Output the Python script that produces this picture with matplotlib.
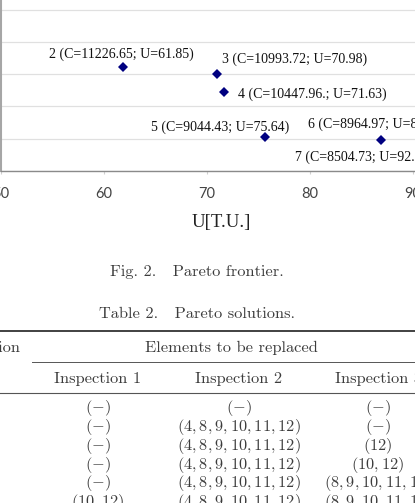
import matplotlib
matplotlib.use("Agg")
import matplotlib.pyplot as plt
from matplotlib.lines import Line2D

plt.rcParams['mathtext.fontset'] = 'cm'

# pareto points (only the visible part of the figure)
point_ids = [2, 3, 4, 5, 6, 7]
cost = [11226.65, 10993.72, 10447.96, 9044.43, 8964.97, 8504.73]
unav = [61.85, 70.98, 71.63, 75.64, 86.86, 92.30]
point_labels = ['2 (C=11226.65; U=61.85)', '3 (C=10993.72; U=70.98)',
                '4 (C=10447.96.; U=71.63)', '5 (C=9044.43; U=75.64)',
                '6 (C=8964.97; U=86.86)', '7 (C=8504.73; U=92.30)']
# label offsets in points, and alignment
label_offsets = [(-1.5, 9.5), (3.5, 11), (10, -1.4), (-32.5, 7.2), (-52, 11.3), (-102, -2.3)]
label_ha = ['center', 'left', 'left', 'center', 'left', 'left']

xticks = [50, 60, 70, 80, 90]
yticks = [8000, 9000, 10000, 11000, 12000, 13000]

# table 2
insp1 = ['(-)', '(-)', '(-)', '(-)', '(-)', '(10, 12)']
insp2 = ['(-)', '(4, 8, 9, 10, 11, 12)', '(4, 8, 9, 10, 11, 12)', '(4, 8, 9, 10, 11, 12)',
         '(4, 8, 9, 10, 11, 12)', '(4, 8, 9, 10, 11, 12)']
insp3 = ['(-)', '(-)', '(12)', '(10, 12)', '(8, 9, 10, 11, 12)', '(8, 9, 10, 11, 12)']
col_headers = ['Inspection 1', 'Inspection 2', 'Inspection 3']

W, H = 415, 503
fx = lambda x: x / W
fy = lambda y: 1 - y / H

fig = plt.figure(figsize=(W / 100, H / 100), dpi=100)
ax = fig.add_axes([fx(1), fy(170.7), fx(414), 170.7 / H])

ax.plot(unav, cost, linestyle='none', marker='D', markersize=5,
        color='#000080', markeredgewidth=0)
for u, c, txt, off, ha in zip(unav, cost, point_labels, label_offsets, label_ha):
    ax.annotate(txt, (u, c), xytext=off, textcoords='offset points', ha=ha, va='center',
                fontsize=10, family='Liberation Serif', color='#111111',
                annotation_clip=False)

ax.set_xlim(50, 50 + 414 / 10.3)
ax.set_ylim(8000, 13311)
ax.set_xticks(xticks)
ax.set_yticks(yticks)
ax.grid(axis='y', color='#e0e0e0', lw=0.9)
ax.set_axisbelow(True)
for s in ['top', 'right']:
    ax.spines[s].set_visible(False)
ax.spines['left'].set_color('#a6a6a6')
ax.spines['left'].set_linewidth(1.5)
ax.spines['bottom'].set_color('#8a8a8a')
ax.spines['bottom'].set_linewidth(1.0)
ax.tick_params(axis='y', length=0, labelleft=False)
ax.tick_params(axis='x', length=2.5, color='#d0d0d0', pad=9, labelsize=10.5,
               labelcolor='#444444')
for t in ax.get_xticklabels():
    t.set_family('Lato')

fig.text(fx(221), fy(222), 'U[T.U.]', ha='center', va='center',
         family='Liberation Serif', fontsize=13.5, color='#222222')

cm = dict(family='cmr10', fontsize=11.8, color='#3c3c3c')
fig.text(fx(196.5), fy(276), 'Fig. 2.   Pareto frontier.', ha='center', va='baseline', **cm)
fig.text(fx(196.5), fy(318.3), 'Table 2.   Pareto solutions.', ha='center', va='baseline', **cm)

# table rules
fig.add_artist(Line2D([0, 1], [fy(331), fy(331)], color='#333333', lw=1.3))
fig.add_artist(Line2D([fx(32), 1], [fy(361.5), fy(361.5)], color='#555555', lw=0.7))
fig.add_artist(Line2D([0, 1], [fy(393), fy(393)], color='#555555', lw=0.8))

fig.text(fx(20), fy(352), 'Solution', ha='right', va='baseline', **cm)
fig.text(fx(231.7), fy(352), 'Elements to be replaced', ha='center', va='baseline', **cm)

col_x = [98, 238.5, 378]
for x, h in zip(col_x, col_headers):
    fig.text(fx(x), fy(383.5), h, ha='center', va='baseline', **cm)

row_y = [408.5 + 18.7 * i for i in range(6)]
for x, col in zip(col_x, [insp1, insp2, insp3]):
    for y, cell in zip(row_y, col):
        fig.text(fx(x), fy(y), '$' + cell + '$', ha='center', va='center',
                 fontsize=11.8, color='#3c3c3c')

fig.savefig('out.png', dpi=100)
